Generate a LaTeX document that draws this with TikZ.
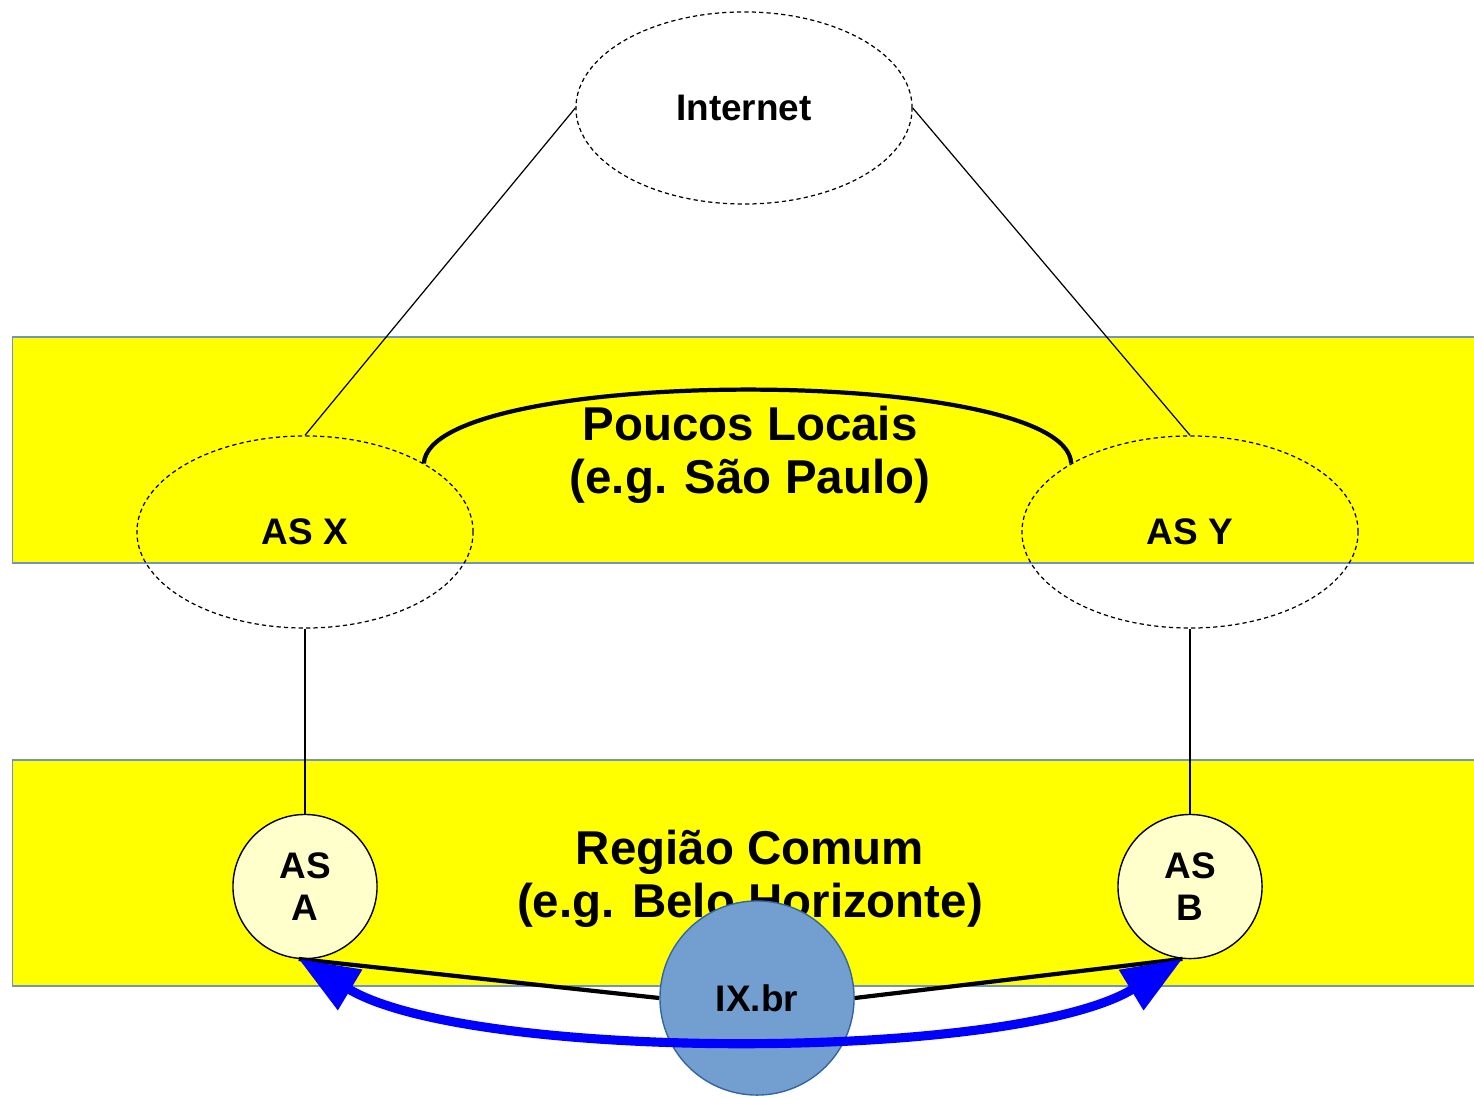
\documentclass[tikz,border=0pt]{standalone}
\usepackage{fontspec}
\setmainfont{Liberation Sans}
\usetikzlibrary{shapes,arrows.meta,positioning}
\definecolor{bandYellow}{HTML}{FFFF00}
\definecolor{bandEdge}{HTML}{7294C4}
\definecolor{memberFill}{HTML}{FFFFCC}
\definecolor{ixFill}{HTML}{729FCF}
\definecolor{ixEdge}{HTML}{3465A4}
\tikzstyle{region} = [rectangle, draw=bandEdge, line width=0.5pt, fill=bandYellow,
    minimum width=14.74cm, minimum height=2.26cm]
\tikzstyle{caption} = [align=center, font=\bfseries\fontsize{13.5}{15.1}\selectfont]
\tikzstyle{bubble} = [ellipse, draw, dash pattern=on 1.2pt off 0.9pt, line width=0.35pt,
    minimum width=3.36cm, minimum height=1.92cm, inner sep=0pt,
    font=\bfseries\fontsize{10.5}{12}\selectfont]
\tikzstyle{member} = [circle, draw, line width=0.4pt, fill=memberFill,
    minimum size=1.44cm, inner sep=0pt, align=center,
    font=\bfseries\fontsize{10.5}{11.9}\selectfont]
\tikzstyle{exchange} = [circle, draw=ixEdge, line width=0.4pt, fill=ixFill,
    minimum size=1.94cm, inner sep=0pt,
    font=\bfseries\fontsize{10.5}{12}\selectfont]
\tikzstyle{link} = [draw, line width=0.35pt]
\tikzstyle{trunk} = [draw, line width=1.2pt]
\tikzstyle{flow} = [draw=blue, line width=2.6pt,
    {Triangle[length=0.6cm,width=0.45cm]}-{Triangle[length=0.6cm,width=0.45cm]}]

\begin{document}
\begin{tikzpicture}[x=0.01cm, y=-0.01cm]
    \useasboundingbox (0,0) rectangle (1474,1098);

    \node[region] (saoPaulo) at (750,450) {};
    \node[region] (beloHorizonte) at (750,873) {};
    \node[caption] (poucosLocais) at (750,455) {Poucos Locais\\(e.g. São Paulo)};
    \node[caption] (regiaoComum) at (750,879) {Região Comum\\(e.g. Belo Horizonte)};

    \node[bubble] (internet) at (744,108) {Internet};
    \node[bubble] (asX) at (305,532) {AS X};
    \node[bubble] (asY) at (1190,532) {AS Y};

    \node[member, below=1.85cm of asX] (asA) {AS\\A};
    \node[member, below=1.85cm of asY] (asB) {AS\\B};

    \path[link] (internet.west) -- (asX.north);
    \path[link] (internet.east) -- (asY.north);
    \path[link] (asX.south) -- (asA.north);
    \path[link] (asY.south) -- (asB.north);

    \path[trunk] (asX.30) .. controls (430,365) and (1067,365) .. (asY.150);

    \node[exchange] (ixBr) at (757,998) {IX.br};

    \path[trunk] (asA.265) -- (ixBr.west);
    \path[trunk] (asB.264) -- (ixBr.east);

    \path[flow] (asB.264) .. controls (1013,1062) and (470,1062) .. (asA.265);
\end{tikzpicture}
\end{document}
